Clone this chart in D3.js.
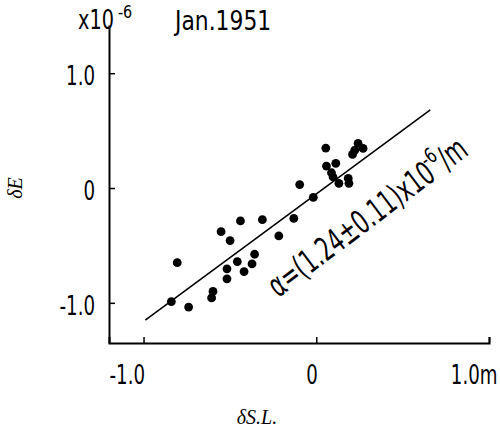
<!DOCTYPE html>
<html>
<head>
<meta charset="utf-8">
<script src="https://cdn.jsdelivr.net/npm/d3@7"></script>
<style>
  body { margin: 0; background: #fff; }
  svg { display: block; }
  .hand { font-family: "DejaVu Sans", sans-serif; fill: #000; }
  .math { font-family: "Liberation Serif", "DejaVu Serif", serif; font-style: italic; fill: #000; }
</style>
</head>
<body>
<div id="main"></div>
<script>
// data (dS.L. in m, dE in 1e-6)
const seaLevel = [-0.839, -0.805, -0.739, -0.598, -0.606, -0.551, -0.499, -0.517, -0.517, -0.457,
  -0.439, -0.418, -0.372, -0.357, -0.312, -0.217, -0.130, -0.096, -0.017, 0.055,
  0.059, 0.113, 0.088, 0.097, 0.131, 0.185, 0.189, 0.210, 0.223, 0.242, 0.271];
const strain = [-0.989, -0.650, -1.037, -0.901, -0.957, -0.380, -0.458, -0.704, -0.791, -0.641,
  -0.287, -0.728, -0.661, -0.577, -0.276, -0.417, -0.265, 0.030, -0.081, 0.348,
  0.191, 0.215, 0.133, 0.096, 0.041, 0.084, 0.041, 0.293, 0.330, 0.389, 0.345];
const fitLine = [[-0.99, -1.15], [0.66, 0.68]];
const xTicks = [-1, 0, 1];
const yTicks = [-1, 0, 1];
const xTickLabels = ["-1.0", "0", "1.0m"];
const yTickLabels = ["-1.0", "0", "1.0"];
const annotationAt = [-0.22, -0.96];

const width = 500, height = 428;

// squeeze wide DejaVu glyphs toward the narrow hand lettering
function condense(sel, k) {
  sel.each(function () {
    const len = this.getComputedTextLength();
    d3.select(this)
      .attr("textLength", len * k)
      .attr("lengthAdjust", "spacingAndGlyphs");
  });
  return sel;
}

const svg = d3.select("#main").append("svg")
  .attr("width", width)
  .attr("height", height);

const x = d3.scaleLinear().domain([-1.2, 1.0]).range([109, 489]);
const y = d3.scaleLinear().domain([-1.35, 1.42]).range([343, 25]);

// x axis, ticks pointing up
const xAxis = svg.append("g")
  .attr("transform", `translate(0,${y(-1.35)})`)
  .call(d3.axisBottom(x)
    .tickValues(xTicks)
    .tickSizeInner(-6)
    .tickSizeOuter(-6)
    .tickPadding(23)
    .tickFormat((d, i) => xTickLabels[i]));

// y axis, ticks pointing right
const yAxis = svg.append("g")
  .attr("transform", `translate(${x(-1.2)},0)`)
  .call(d3.axisLeft(y)
    .tickValues(yTicks)
    .tickSizeInner(-6)
    .tickSizeOuter(0)
    .tickPadding(14)
    .tickFormat((d, i) => yTickLabels[i]));

[xAxis, yAxis].forEach((g) => {
  g.select(".domain").attr("stroke", "#000").attr("stroke-width", 2);
  g.selectAll(".tick line").attr("stroke", "#000").attr("stroke-width", 1.5);
  g.selectAll(".tick text")
    .attr("class", "hand")
    .attr("font-size", 26)
    .attr("fill", "#000");
  condense(g.selectAll(".tick text"), 0.7);
});

xAxis.selectAll(".tick text")
  .attr("text-anchor", "end")
  .attr("dx", (d) => (d === 1 ? 8 : 1));

yAxis.selectAll(".tick text").attr("dy", "0.45em");

// fitted line
svg.append("line")
  .attr("x1", x(fitLine[0][0]))
  .attr("y1", y(fitLine[0][1]))
  .attr("x2", x(fitLine[1][0]))
  .attr("y2", y(fitLine[1][1]))
  .attr("stroke", "#000")
  .attr("stroke-width", 1.6);

// observations
svg.append("g")
  .selectAll("circle")
  .data(seaLevel.map((d, i) => [d, strain[i]]))
  .enter()
  .append("circle")
  .attr("cx", (d) => x(d[0]))
  .attr("cy", (d) => y(d[1]))
  .attr("r", 4.4)
  .attr("fill", "#000");

// unit marker and date
const unit = svg.append("text")
  .attr("class", "hand")
  .attr("x", 78)
  .attr("y", 29)
  .attr("font-size", 26)
  .text("x10");
condense(unit, 0.74);

const unitExp = svg.append("text")
  .attr("class", "hand")
  .attr("x", 82 + +unit.attr("textLength"))
  .attr("y", 18)
  .attr("font-size", 18)
  .text("-6");
condense(unitExp, 0.8);

const date = svg.append("text")
  .attr("class", "hand")
  .attr("x", 175)
  .attr("y", 30)
  .attr("font-size", 26)
  .text("Jan.1951");
condense(date, 0.84);

// slope annotation
const note = svg.append("g")
  .attr("transform", `translate(${x(annotationAt[0])},${y(annotationAt[1])}) rotate(-37)`);
const n1 = note.append("text")
  .attr("class", "hand")
  .attr("font-size", 33)
  .text("α=(1.24±0.11)x10");
condense(n1, 0.64);
const l1 = +n1.attr("textLength");
const n2 = note.append("text")
  .attr("class", "hand")
  .attr("font-size", 21)
  .attr("x", l1 - 2)
  .attr("y", -15)
  .text("-6");
condense(n2, 0.72);
const l2 = +n2.attr("textLength");
const n3 = note.append("text")
  .attr("class", "hand")
  .attr("font-size", 33)
  .attr("x", l1 + l2 - 2)
  .text("/m");
condense(n3, 0.64);

// axis titles
svg.append("text")
  .attr("class", "math")
  .attr("font-size", 20)
  .attr("text-anchor", "middle")
  .attr("transform", `translate(22,${y(0)}) rotate(-90)`)
  .text("δE");

svg.append("text")
  .attr("class", "math")
  .attr("font-size", 20)
  .attr("text-anchor", "middle")
  .attr("x", 257)
  .attr("y", 424)
  .text("δS.L.");
</script>
</body>
</html>
